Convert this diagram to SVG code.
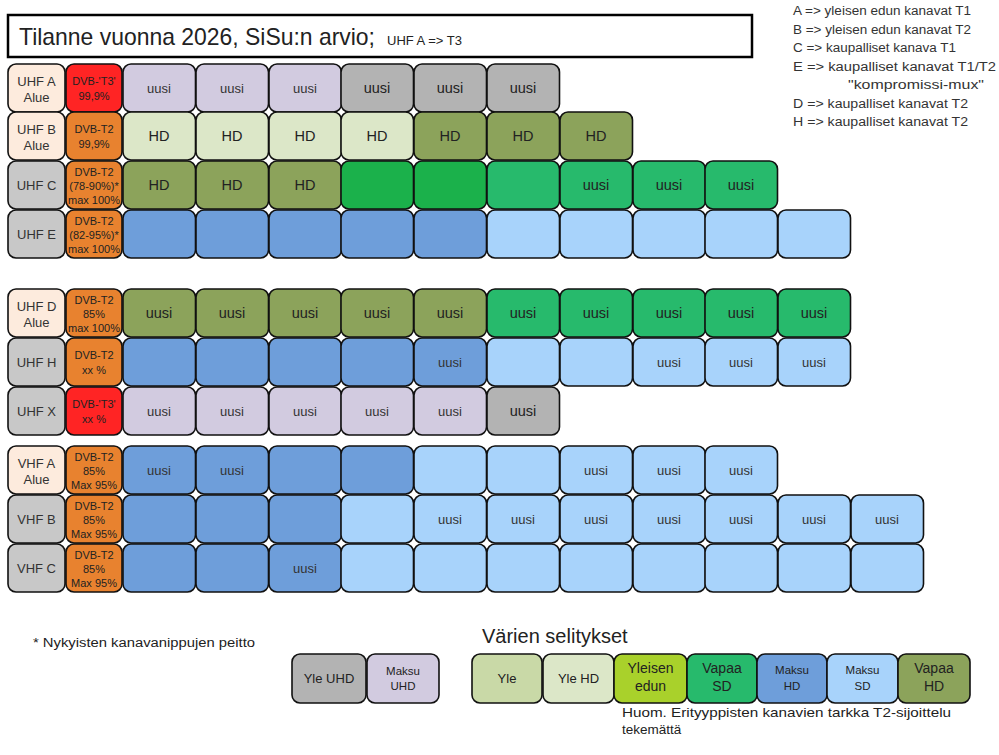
<svg xmlns="http://www.w3.org/2000/svg" width="999" height="755" viewBox="0 0 999 755">
<style>
text{font-family:"Liberation Sans",Arial,sans-serif;fill:#222}
.m{text-anchor:middle}
rect.b{stroke:#111;stroke-width:1.6;rx:8px;ry:8px}
.pe{fill:#FDEBDD}.gl{fill:#C8C8C8}.rd{fill:#FF2424}.or{fill:#E8822F}
.lv{fill:#D2CBE0}.gy{fill:#B3B3B3}.lg{fill:#DCE7C8}.ol{fill:#8CA35B}
.bg{fill:#1BB14B}.gr{fill:#27BA6C}.bl{fill:#6E9EDA}.lb{fill:#A8D3FB}
.yl{fill:#C9D9A7}.ye{fill:#A9D12B}
.lab{font-size:13px;fill:#333}
.dvb{font-size:11px}
.big{font-size:14.5px}
.sm{font-size:13px;fill:#333}
.leg{font-size:12.5px;fill:#333}
</style>
<g id="title">
<rect x="8" y="15" width="744" height="42" fill="#fff" stroke="#000" stroke-width="2.5"/>
<text x="19" y="45" font-size="24" textLength="356" lengthAdjust="spacingAndGlyphs">Tilanne vuonna 2026, SiSu:n arvio;</text>
<text x="387" y="45" font-size="13">UHF A =&gt; T3</text>
</g>
<g id="legend-top">
<text x="793" y="15" class="leg" textLength="178" lengthAdjust="spacingAndGlyphs">A =&gt; yleisen edun kanavat T1</text>
<text x="793" y="34" class="leg" textLength="178" lengthAdjust="spacingAndGlyphs">B =&gt; yleisen edun kanavat T2</text>
<text x="793" y="52" class="leg" textLength="163" lengthAdjust="spacingAndGlyphs">C =&gt; kaupalliset kanava T1</text>
<text x="793" y="71" class="leg" textLength="203" lengthAdjust="spacingAndGlyphs">E =&gt; kaupalliset kanavat T1/T2</text>
<text x="848" y="89" class="leg" textLength="136" lengthAdjust="spacingAndGlyphs">"kompromissi-mux"</text>
<text x="793" y="108" class="leg" textLength="175" lengthAdjust="spacingAndGlyphs">D =&gt; kaupalliset kanavat T2</text>
<text x="793" y="126" class="leg" textLength="175" lengthAdjust="spacingAndGlyphs">H =&gt; kaupalliset kanavat T2</text>
</g>
<g id="connectors"/>

<!-- Row UHF A y=64 -->
<g id="uhfA-label"><rect class="b pe" x="8" y="64" width="57" height="48"/><text class="m lab" x="36.5" y="85.5">UHF A</text><text class="m lab" x="36.5" y="101.5">Alue</text></g>
<g id="uhfA-dvb"><rect class="b rd" x="66" y="64" width="56" height="48"/><text class="m dvb" x="94" y="85">DVB-'T3'</text><text class="m dvb" x="94" y="100">99,9%</text></g>
<g id="uhfA-c0"><rect class="b lv" x="123" y="64" width="72.5" height="48"/><text class="m sm" x="159" y="93">uusi</text></g>
<g id="uhfA-c1"><rect class="b lv" x="196" y="64" width="72.5" height="48"/><text class="m sm" x="232" y="93">uusi</text></g>
<g id="uhfA-c2"><rect class="b lv" x="269" y="64" width="72.5" height="48"/><text class="m sm" x="305" y="93">uusi</text></g>
<g id="uhfA-c3"><rect class="b gy" x="341" y="64" width="72.5" height="48"/><text class="m big" x="377" y="93">uusi</text></g>
<g id="uhfA-c4"><rect class="b gy" x="414" y="64" width="72.5" height="48"/><text class="m big" x="450" y="93">uusi</text></g>
<g id="uhfA-c5"><rect class="b gy" x="487" y="64" width="72.5" height="48"/><text class="m big" x="523" y="93">uusi</text></g>

<!-- Row UHF B y=112 -->
<g id="uhfB-label"><rect class="b pe" x="8" y="112" width="57" height="48"/><text class="m lab" x="36.5" y="133.5">UHF B</text><text class="m lab" x="36.5" y="149.5">Alue</text></g>
<g id="uhfB-dvb"><rect class="b or" x="66" y="112" width="56" height="48"/><text class="m dvb" x="94" y="133">DVB-T2</text><text class="m dvb" x="94" y="148">99,9%</text></g>
<g id="uhfB-c0"><rect class="b lg" x="123" y="112" width="72.5" height="48"/><text class="m big" x="159" y="141">HD</text></g>
<g id="uhfB-c1"><rect class="b lg" x="196" y="112" width="72.5" height="48"/><text class="m big" x="232" y="141">HD</text></g>
<g id="uhfB-c2"><rect class="b lg" x="269" y="112" width="72.5" height="48"/><text class="m big" x="305" y="141">HD</text></g>
<g id="uhfB-c3"><rect class="b lg" x="341" y="112" width="72.5" height="48"/><text class="m big" x="377" y="141">HD</text></g>
<g id="uhfB-c4"><rect class="b ol" x="414" y="112" width="72.5" height="48"/><text class="m big" x="450" y="141">HD</text></g>
<g id="uhfB-c5"><rect class="b ol" x="487" y="112" width="72.5" height="48"/><text class="m big" x="523" y="141">HD</text></g>
<g id="uhfB-c6"><rect class="b ol" x="560" y="112" width="72.5" height="48"/><text class="m big" x="596" y="141">HD</text></g>

<!-- Row UHF C y=161 -->
<g id="uhfC-label"><rect class="b gl" x="8" y="161" width="57" height="48"/><text class="m lab" x="36.5" y="190">UHF C</text></g>
<g id="uhfC-dvb"><rect class="b or" x="66" y="161" width="56" height="48"/><text class="m dvb" x="94" y="176">DVB-T2</text><text class="m dvb" x="94" y="189.5">(78-90%)*</text><text class="m dvb" x="94" y="203.5">max 100%</text></g>
<g id="uhfC-c0"><rect class="b ol" x="123" y="161" width="72.5" height="48"/><text class="m big" x="159" y="190">HD</text></g>
<g id="uhfC-c1"><rect class="b ol" x="196" y="161" width="72.5" height="48"/><text class="m big" x="232" y="190">HD</text></g>
<g id="uhfC-c2"><rect class="b ol" x="269" y="161" width="72.5" height="48"/><text class="m big" x="305" y="190">HD</text></g>
<g id="uhfC-c3"><rect class="b bg" x="341" y="161" width="72.5" height="48"/></g>
<g id="uhfC-c4"><rect class="b bg" x="414" y="161" width="72.5" height="48"/></g>
<g id="uhfC-c5"><rect class="b gr" x="487" y="161" width="72.5" height="48"/></g>
<g id="uhfC-c6"><rect class="b gr" x="560" y="161" width="72.5" height="48"/><text class="m big" x="596" y="190">uusi</text></g>
<g id="uhfC-c7"><rect class="b gr" x="633" y="161" width="72.5" height="48"/><text class="m big" x="669" y="190">uusi</text></g>
<g id="uhfC-c8"><rect class="b gr" x="705" y="161" width="72.5" height="48"/><text class="m big" x="741" y="190">uusi</text></g>

<!-- Row UHF E y=210 -->
<g id="uhfE-label"><rect class="b gl" x="8" y="210" width="57" height="48"/><text class="m lab" x="36.5" y="239">UHF E</text></g>
<g id="uhfE-dvb"><rect class="b or" x="66" y="210" width="56" height="48"/><text class="m dvb" x="94" y="225">DVB-T2</text><text class="m dvb" x="94" y="238.5">(82-95%)*</text><text class="m dvb" x="94" y="252.5">max 100%</text></g>
<g id="uhfE-c0"><rect class="b bl" x="123" y="210" width="72.5" height="48"/></g>
<g id="uhfE-c1"><rect class="b bl" x="196" y="210" width="72.5" height="48"/></g>
<g id="uhfE-c2"><rect class="b bl" x="269" y="210" width="72.5" height="48"/></g>
<g id="uhfE-c3"><rect class="b bl" x="341" y="210" width="72.5" height="48"/></g>
<g id="uhfE-c4"><rect class="b bl" x="414" y="210" width="72.5" height="48"/></g>
<g id="uhfE-c5"><rect class="b lb" x="487" y="210" width="72.5" height="48"/></g>
<g id="uhfE-c6"><rect class="b lb" x="560" y="210" width="72.5" height="48"/></g>
<g id="uhfE-c7"><rect class="b lb" x="633" y="210" width="72.5" height="48"/></g>
<g id="uhfE-c8"><rect class="b lb" x="705" y="210" width="72.5" height="48"/></g>
<g id="uhfE-c9"><rect class="b lb" x="778" y="210" width="72.5" height="48"/></g>

<!-- Row UHF D y=289 -->
<g id="uhfD-label"><rect class="b pe" x="8" y="289" width="57" height="48"/><text class="m lab" x="36.5" y="310.5">UHF D</text><text class="m lab" x="36.5" y="326.5">Alue</text></g>
<g id="uhfD-dvb"><rect class="b or" x="66" y="289" width="56" height="48"/><text class="m dvb" x="94" y="304">DVB-T2</text><text class="m dvb" x="94" y="317.5">85%</text><text class="m dvb" x="94" y="331.5">max 100%</text></g>
<g id="uhfD-c0"><rect class="b ol" x="123" y="289" width="72.5" height="48"/><text class="m big" x="159" y="318">uusi</text></g>
<g id="uhfD-c1"><rect class="b ol" x="196" y="289" width="72.5" height="48"/><text class="m big" x="232" y="318">uusi</text></g>
<g id="uhfD-c2"><rect class="b ol" x="269" y="289" width="72.5" height="48"/><text class="m big" x="305" y="318">uusi</text></g>
<g id="uhfD-c3"><rect class="b ol" x="341" y="289" width="72.5" height="48"/><text class="m big" x="377" y="318">uusi</text></g>
<g id="uhfD-c4"><rect class="b ol" x="414" y="289" width="72.5" height="48"/><text class="m big" x="450" y="318">uusi</text></g>
<g id="uhfD-c5"><rect class="b gr" x="487" y="289" width="72.5" height="48"/><text class="m big" x="523" y="318">uusi</text></g>
<g id="uhfD-c6"><rect class="b gr" x="560" y="289" width="72.5" height="48"/><text class="m big" x="596" y="318">uusi</text></g>
<g id="uhfD-c7"><rect class="b gr" x="633" y="289" width="72.5" height="48"/><text class="m big" x="669" y="318">uusi</text></g>
<g id="uhfD-c8"><rect class="b gr" x="705" y="289" width="72.5" height="48"/><text class="m big" x="741" y="318">uusi</text></g>
<g id="uhfD-c9"><rect class="b gr" x="778" y="289" width="72.5" height="48"/><text class="m big" x="814" y="318">uusi</text></g>

<!-- Row UHF H y=338 -->
<g id="uhfH-label"><rect class="b gl" x="8" y="338" width="57" height="48"/><text class="m lab" x="36.5" y="367">UHF H</text></g>
<g id="uhfH-dvb"><rect class="b or" x="66" y="338" width="56" height="48"/><text class="m dvb" x="94" y="359">DVB-T2</text><text class="m dvb" x="94" y="374">xx %</text></g>
<g id="uhfH-c0"><rect class="b bl" x="123" y="338" width="72.5" height="48"/></g>
<g id="uhfH-c1"><rect class="b bl" x="196" y="338" width="72.5" height="48"/></g>
<g id="uhfH-c2"><rect class="b bl" x="269" y="338" width="72.5" height="48"/></g>
<g id="uhfH-c3"><rect class="b bl" x="341" y="338" width="72.5" height="48"/></g>
<g id="uhfH-c4"><rect class="b bl" x="414" y="338" width="72.5" height="48"/><text class="m sm" x="450" y="367">uusi</text></g>
<g id="uhfH-c5"><rect class="b lb" x="487" y="338" width="72.5" height="48"/></g>
<g id="uhfH-c6"><rect class="b lb" x="560" y="338" width="72.5" height="48"/></g>
<g id="uhfH-c7"><rect class="b lb" x="633" y="338" width="72.5" height="48"/><text class="m sm" x="669" y="367">uusi</text></g>
<g id="uhfH-c8"><rect class="b lb" x="705" y="338" width="72.5" height="48"/><text class="m sm" x="741" y="367">uusi</text></g>
<g id="uhfH-c9"><rect class="b lb" x="778" y="338" width="72.5" height="48"/><text class="m sm" x="814" y="367">uusi</text></g>

<!-- Row UHF X y=387 -->
<g id="uhfX-label"><rect class="b gl" x="8" y="387" width="57" height="48"/><text class="m lab" x="36.5" y="416">UHF X</text></g>
<g id="uhfX-dvb"><rect class="b rd" x="66" y="387" width="56" height="48"/><text class="m dvb" x="94" y="408">DVB-'T3'</text><text class="m dvb" x="94" y="423">xx %</text></g>
<g id="uhfX-c0"><rect class="b lv" x="123" y="387" width="72.5" height="48"/><text class="m sm" x="159" y="416">uusi</text></g>
<g id="uhfX-c1"><rect class="b lv" x="196" y="387" width="72.5" height="48"/><text class="m sm" x="232" y="416">uusi</text></g>
<g id="uhfX-c2"><rect class="b lv" x="269" y="387" width="72.5" height="48"/><text class="m sm" x="305" y="416">uusi</text></g>
<g id="uhfX-c3"><rect class="b lv" x="341" y="387" width="72.5" height="48"/><text class="m sm" x="377" y="416">uusi</text></g>
<g id="uhfX-c4"><rect class="b lv" x="414" y="387" width="72.5" height="48"/><text class="m sm" x="450" y="416">uusi</text></g>
<g id="uhfX-c5"><rect class="b gy" x="487" y="387" width="72.5" height="48"/><text class="m big" x="523" y="416">uusi</text></g>

<!-- Row VHF A y=446 -->
<g id="vhfA-label"><rect class="b pe" x="8" y="446" width="57" height="48"/><text class="m lab" x="36.5" y="467.5">VHF A</text><text class="m lab" x="36.5" y="483.5">Alue</text></g>
<g id="vhfA-dvb"><rect class="b or" x="66" y="446" width="56" height="48"/><text class="m dvb" x="94" y="461">DVB-T2</text><text class="m dvb" x="94" y="474.5">85%</text><text class="m dvb" x="94" y="488.5">Max 95%</text></g>
<g id="vhfA-c0"><rect class="b bl" x="123" y="446" width="72.5" height="48"/><text class="m sm" x="159" y="475">uusi</text></g>
<g id="vhfA-c1"><rect class="b bl" x="196" y="446" width="72.5" height="48"/><text class="m sm" x="232" y="475">uusi</text></g>
<g id="vhfA-c2"><rect class="b bl" x="269" y="446" width="72.5" height="48"/></g>
<g id="vhfA-c3"><rect class="b bl" x="341" y="446" width="72.5" height="48"/></g>
<g id="vhfA-c4"><rect class="b lb" x="414" y="446" width="72.5" height="48"/></g>
<g id="vhfA-c5"><rect class="b lb" x="487" y="446" width="72.5" height="48"/></g>
<g id="vhfA-c6"><rect class="b lb" x="560" y="446" width="72.5" height="48"/><text class="m sm" x="596" y="475">uusi</text></g>
<g id="vhfA-c7"><rect class="b lb" x="633" y="446" width="72.5" height="48"/><text class="m sm" x="669" y="475">uusi</text></g>
<g id="vhfA-c8"><rect class="b lb" x="705" y="446" width="72.5" height="48"/><text class="m sm" x="741" y="475">uusi</text></g>

<!-- Row VHF B y=495 -->
<g id="vhfB-label"><rect class="b gl" x="8" y="495" width="57" height="48"/><text class="m lab" x="36.5" y="524">VHF B</text></g>
<g id="vhfB-dvb"><rect class="b or" x="66" y="495" width="56" height="48"/><text class="m dvb" x="94" y="510">DVB-T2</text><text class="m dvb" x="94" y="523.5">85%</text><text class="m dvb" x="94" y="537.5">Max 95%</text></g>
<g id="vhfB-c0"><rect class="b bl" x="123" y="495" width="72.5" height="48"/></g>
<g id="vhfB-c1"><rect class="b bl" x="196" y="495" width="72.5" height="48"/></g>
<g id="vhfB-c2"><rect class="b bl" x="269" y="495" width="72.5" height="48"/></g>
<g id="vhfB-c3"><rect class="b lb" x="341" y="495" width="72.5" height="48"/></g>
<g id="vhfB-c4"><rect class="b lb" x="414" y="495" width="72.5" height="48"/><text class="m sm" x="450" y="524">uusi</text></g>
<g id="vhfB-c5"><rect class="b lb" x="487" y="495" width="72.5" height="48"/><text class="m sm" x="523" y="524">uusi</text></g>
<g id="vhfB-c6"><rect class="b lb" x="560" y="495" width="72.5" height="48"/><text class="m sm" x="596" y="524">uusi</text></g>
<g id="vhfB-c7"><rect class="b lb" x="633" y="495" width="72.5" height="48"/><text class="m sm" x="669" y="524">uusi</text></g>
<g id="vhfB-c8"><rect class="b lb" x="705" y="495" width="72.5" height="48"/><text class="m sm" x="741" y="524">uusi</text></g>
<g id="vhfB-c9"><rect class="b lb" x="778" y="495" width="72.5" height="48"/><text class="m sm" x="814" y="524">uusi</text></g>
<g id="vhfB-c10"><rect class="b lb" x="851" y="495" width="72.5" height="48"/><text class="m sm" x="887" y="524">uusi</text></g>

<!-- Row VHF C y=544 -->
<g id="vhfC-label"><rect class="b gl" x="8" y="544" width="57" height="48"/><text class="m lab" x="36.5" y="573">VHF C</text></g>
<g id="vhfC-dvb"><rect class="b or" x="66" y="544" width="56" height="48"/><text class="m dvb" x="94" y="559">DVB-T2</text><text class="m dvb" x="94" y="572.5">85%</text><text class="m dvb" x="94" y="586.5">Max 95%</text></g>
<g id="vhfC-c0"><rect class="b bl" x="123" y="544" width="72.5" height="48"/></g>
<g id="vhfC-c1"><rect class="b bl" x="196" y="544" width="72.5" height="48"/></g>
<g id="vhfC-c2"><rect class="b bl" x="269" y="544" width="72.5" height="48"/><text class="m sm" x="305" y="573">uusi</text></g>
<g id="vhfC-c3"><rect class="b lb" x="341" y="544" width="72.5" height="48"/></g>
<g id="vhfC-c4"><rect class="b lb" x="414" y="544" width="72.5" height="48"/></g>
<g id="vhfC-c5"><rect class="b lb" x="487" y="544" width="72.5" height="48"/></g>
<g id="vhfC-c6"><rect class="b lb" x="560" y="544" width="72.5" height="48"/></g>
<g id="vhfC-c7"><rect class="b lb" x="633" y="544" width="72.5" height="48"/></g>
<g id="vhfC-c8"><rect class="b lb" x="705" y="544" width="72.5" height="48"/></g>
<g id="vhfC-c9"><rect class="b lb" x="778" y="544" width="72.5" height="48"/></g>
<g id="vhfC-c10"><rect class="b lb" x="851" y="544" width="72.5" height="48"/></g>

<!-- Bottom notes and legend -->
<g id="footnote"><text x="33" y="647" font-size="12.5" fill="#333" textLength="222" lengthAdjust="spacingAndGlyphs">* Nykyisten kanavanippujen peitto</text></g>
<g id="legend-title"><text x="482" y="643" font-size="20" fill="#333">Värien selitykset</text></g>
<g id="leg-yle-uhd"><rect class="b gy" x="292" y="654" width="74" height="49" stroke-width="2"/><text class="m" x="329" y="683" font-size="13">Yle UHD</text></g>
<g id="leg-maksu-uhd"><rect class="b lv" x="367" y="654" width="72" height="49"/><text class="m" x="403" y="675" font-size="11.5">Maksu</text><text class="m" x="403" y="690" font-size="11.5">UHD</text></g>
<g id="leg-yle"><rect class="b yl" x="472" y="654" width="70" height="49"/><text class="m" x="507" y="683" font-size="13">Yle</text></g>
<g id="leg-yle-hd"><rect class="b lg" x="543" y="654" width="71" height="49"/><text class="m" x="578.5" y="683" font-size="13">Yle HD</text></g>
<g id="leg-yleisen"><rect class="b ye" x="614" y="654" width="73" height="49"/><text class="m" x="650.5" y="673" font-size="14">Yleisen</text><text class="m" x="650.5" y="691" font-size="14">edun</text></g>
<g id="leg-vapaa-sd"><rect class="b gr" x="687" y="654" width="70" height="49"/><text class="m" x="722" y="673" font-size="14">Vapaa</text><text class="m" x="722" y="691" font-size="14">SD</text></g>
<g id="leg-maksu-hd"><rect class="b bl" x="757" y="654" width="70" height="49"/><text class="m" x="792" y="674" font-size="11.5">Maksu</text><text class="m" x="792" y="690" font-size="11.5">HD</text></g>
<g id="leg-maksu-sd"><rect class="b lb" x="827" y="654" width="71" height="49"/><text class="m" x="862.5" y="674" font-size="11.5">Maksu</text><text class="m" x="862.5" y="690" font-size="11.5">SD</text></g>
<g id="leg-vapaa-hd"><rect class="b ol" x="898" y="654" width="72" height="49"/><text class="m" x="934" y="673" font-size="14">Vapaa</text><text class="m" x="934" y="691" font-size="14">HD</text></g>
<g id="note"><text x="622" y="717" font-size="13.5" fill="#333" textLength="329" lengthAdjust="spacingAndGlyphs">Huom. Erityyppisten kanavien tarkka T2-sijoittelu</text><text x="622" y="734" font-size="13.5" fill="#333">tekemättä</text></g>
</svg>
